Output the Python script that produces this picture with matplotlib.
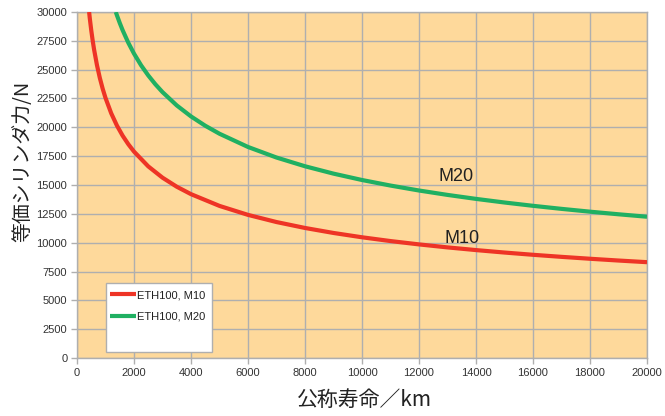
import matplotlib
matplotlib.use("Agg")
import matplotlib.pyplot as plt
from matplotlib.patches import Rectangle

# ---- data ----
life_m10 = [425, 450, 500, 550, 600, 700, 800, 900, 1000, 1200, 1400, 1600, 1800,
            2000, 2500, 3000, 3500, 4000, 5000, 6000, 7000, 8000, 9000, 10000,
            11000, 12000, 13000, 14000, 15000, 16000, 17000, 18000, 19000, 20000]
force_m10 = [30000, 29427, 28411, 27524, 26737, 25397, 24292, 23356, 22550, 21220,
             20157, 19280, 18538, 17898, 16615, 15636, 14852, 14206, 13187, 12410,
             11788, 11275, 10841, 10467, 10139, 9850, 9590, 9357, 9144, 8949, 8770,
             8605, 8451, 8308]

life_m20 = [1361, 1400, 1500, 1600, 1800, 2000, 2250, 2500, 2750, 3000, 3500, 4000,
            4500, 5000, 6000, 7000, 8000, 9000, 10000, 11000, 12000, 13000, 14000,
            15000, 16000, 17000, 18000, 19000, 20000]
force_m20 = [30000, 29722, 29047, 28429, 27335, 26391, 25374, 24499, 23733, 23055,
             21900, 20946, 20139, 19444, 18298, 17382, 16625, 15985, 15433, 14951,
             14523, 14141, 13796, 13482, 13195, 12931, 12687, 12461, 12249]

series_labels = ["ETH100, M10", "ETH100, M20"]
curve_names = ["M10", "M20"]
x_ticks = list(range(0, 20001, 2000))
y_ticks = list(range(0, 30001, 2500))
x_label = "公称寿命／km"
y_label = "等価シリンダ力/N"

# ---- styling ----
plt.rcParams['font.family'] = ['Liberation Sans', 'Noto Sans CJK JP', 'DejaVu Sans']
RED = "#EE3426"
GREEN = "#20B062"
BG = "#FED99B"
GRID = "#AFAFAF"
CJK = ['Noto Sans CJK JP', 'DejaVu Sans']

W, H = 665, 416
AX_L, AX_R, AX_T, AX_B = 77, 647, 12, 358

fig = plt.figure(figsize=(W / 100, H / 100), dpi=100)
ax = fig.add_axes([AX_L / W, 1 - AX_B / H, (AX_R - AX_L) / W, (AX_B - AX_T) / H])
ax.set_facecolor(BG)

ax.plot(life_m10, force_m10, color=RED, lw=3.0, label=series_labels[0],
        solid_capstyle='butt', zorder=3)
ax.plot(life_m20, force_m20, color=GREEN, lw=3.0, label=series_labels[1],
        solid_capstyle='butt', zorder=3)

ax.set_xlim(0, 20000)
ax.set_ylim(0, 30000)
ax.set_xticks(x_ticks)
ax.set_yticks(y_ticks)
ax.set_xticklabels([str(v) for v in x_ticks])
ax.set_yticklabels([str(v) for v in y_ticks])
ax.tick_params(axis='both', labelsize=8, labelcolor="#333333", color=GRID,
               length=4, width=1, direction='out', pad=3)
ax.grid(True, color=GRID, lw=1.0, zorder=1)
ax.set_axisbelow(True)
for s in ax.spines.values():
    s.set_color(GRID)
    s.set_linewidth(1.0)

# axis titles (positioned in pixels as in the reference)
fig.text(365 / W, 1 - 400 / H, x_label, family=CJK, fontsize=15,
         color="#222222", ha='center', va='center')
fig.text(23 / W, 1 - 161 / H, y_label, family=CJK, fontsize=14.3,
         color="#222222", ha='center', va='center', rotation=90)

ax.text(13300, 15700, curve_names[1], fontsize=13, color="#222222",
        ha='center', va='center')
ax.text(13500, 10400, curve_names[0], fontsize=13, color="#222222",
        ha='center', va='center')

# legend box (pixel layout from reference)
LG_L, LG_R, LG_T, LG_B = 106, 212, 283, 352
def ax_frac(px, py):
    return ((px - AX_L) / (AX_R - AX_L), (AX_B - py) / (AX_B - AX_T))
x0, y0 = ax_frac(LG_L, LG_B)
x1, y1 = ax_frac(LG_R, LG_T)
ax.add_patch(Rectangle((x0, y0), x1 - x0, y1 - y0, transform=ax.transAxes,
                       facecolor="white", edgecolor=GRID, lw=1.0, zorder=4))
leg = ax.legend(loc='upper left', bbox_to_anchor=ax_frac(LG_L + 1, LG_T + 4),
                fontsize=8, frameon=False, handlelength=2.3, handletextpad=0.1,
                borderaxespad=0, labelspacing=1.0, borderpad=0.3)
for t in leg.get_texts():
    t.set_color("#222222")
leg.set_zorder(5)

fig.savefig("out.png", dpi=100, facecolor="white")
